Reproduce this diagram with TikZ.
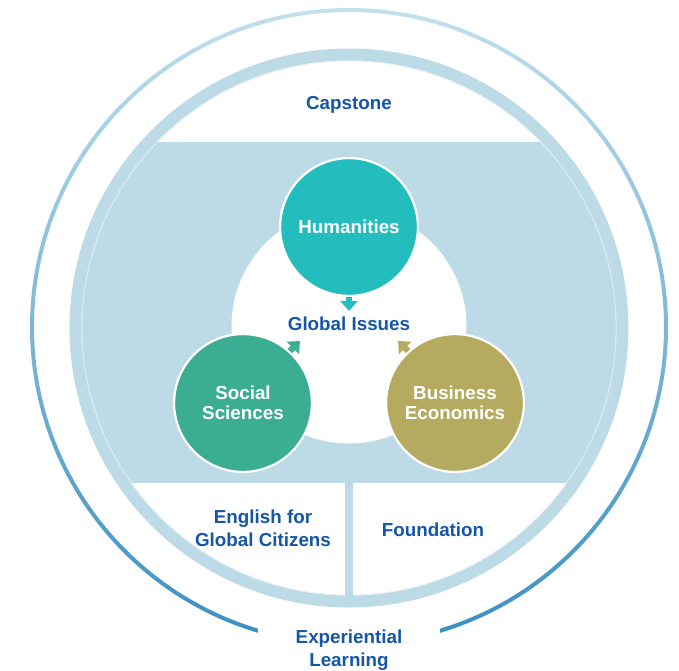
\documentclass[tikz,border=0pt]{standalone}
\usepackage{fontspec}
\setmainfont{Liberation Sans}
\usepackage{xcolor}
\usetikzlibrary{arrows.meta,positioning,calc}

\definecolor{bandblue}{RGB}{188,219,230}
\definecolor{ringtop}{RGB}{194,224,236}
\definecolor{ringbottom}{RGB}{58,143,194}
\definecolor{wordblue}{RGB}{22,86,168}
\definecolor{humteal}{RGB}{36,189,189}
\definecolor{socgreen}{RGB}{59,173,147}
\definecolor{bizolive}{RGB}{181,171,96}

\begin{document}
\begin{tikzpicture}[x=10pt, y=10pt,
        font=\bfseries\fontsize{18.8}{20}\selectfont,
        subject/.style={circle, draw=white, line width=2.2pt, minimum size=137.8pt, inner sep=0pt, text=white, align=center},
        blueword/.style={text=wordblue, align=center},
        twoline/.style={font=\bfseries\fontsize{18.8}{22.7}\selectfont},
        feed/.style={line width=6pt, -{Triangle[length=10pt,width=17pt]}}]
        \useasboundingbox (-34.9,-34.2) rectangle (33.0,32.8);

        % Outer ring, light at the top and darker at the bottom
        \shade[top color=ringtop, bottom color=ringbottom, even odd rule] (0,0.1) circle (31.9) (0,0.1) circle (31.5);

        % Disk with the top and bottom segments cut out in white
        \fill[bandblue] (0,0) circle (27.95);
        \fill[white] (0,0) circle (26.75);
        \begin{scope}
            \clip (0,0) circle (26.75);
            \fill[bandblue] (-27,-15.5) rectangle (27,18.6);
        \end{scope}
        \draw[white!55!bandblue, line width=0.7pt] (0,0) circle (26.7); % faint edge line inside the band
        \fill[bandblue] (-0.4,-15.5) rectangle (0.4,-27.2); % divider between the two bottom parts

        % Middle
        \fill[white] (0,0.2) circle (11.75);

        \node [subject, fill=humteal] (hum) at (0,10.1) {Humanities};
        \node [subject, fill=socgreen] (soc) at (-10.6,-7.5) {Social\\Sciences};
        \node [subject, fill=bizolive] (biz) at (10.6,-7.5) {Business\\Economics};

        \coordinate (tipH) at (0,1.7);
        \coordinate (tipS) at (-4.9,-1.3);
        \coordinate (tipB) at (4.9,-1.3);
        \draw [feed, humteal] (hum.south) -- (tipH);
        \draw [feed, socgreen] (soc.48) -- (tipS);
        \draw [feed, bizolive] (biz.132) -- (tipB);

        \node [blueword] (glob) at (0,0.42) {Global Issues};

        % Texts round the middle
        \node [blueword] (cap) at (0,22.3) {Capstone};
        \node [blueword, twoline] (eng) at (-8.6,-20.0) {English for\\Global Citizens};
        \node [blueword] (fdn) at (8.4,-20.2) {Foundation};
        \node [blueword, twoline, fill=white, minimum width=182pt, minimum height=60pt] (exp) at (0,-32.2) {Experiential\\Learning};
    \end{tikzpicture}
\end{document}
